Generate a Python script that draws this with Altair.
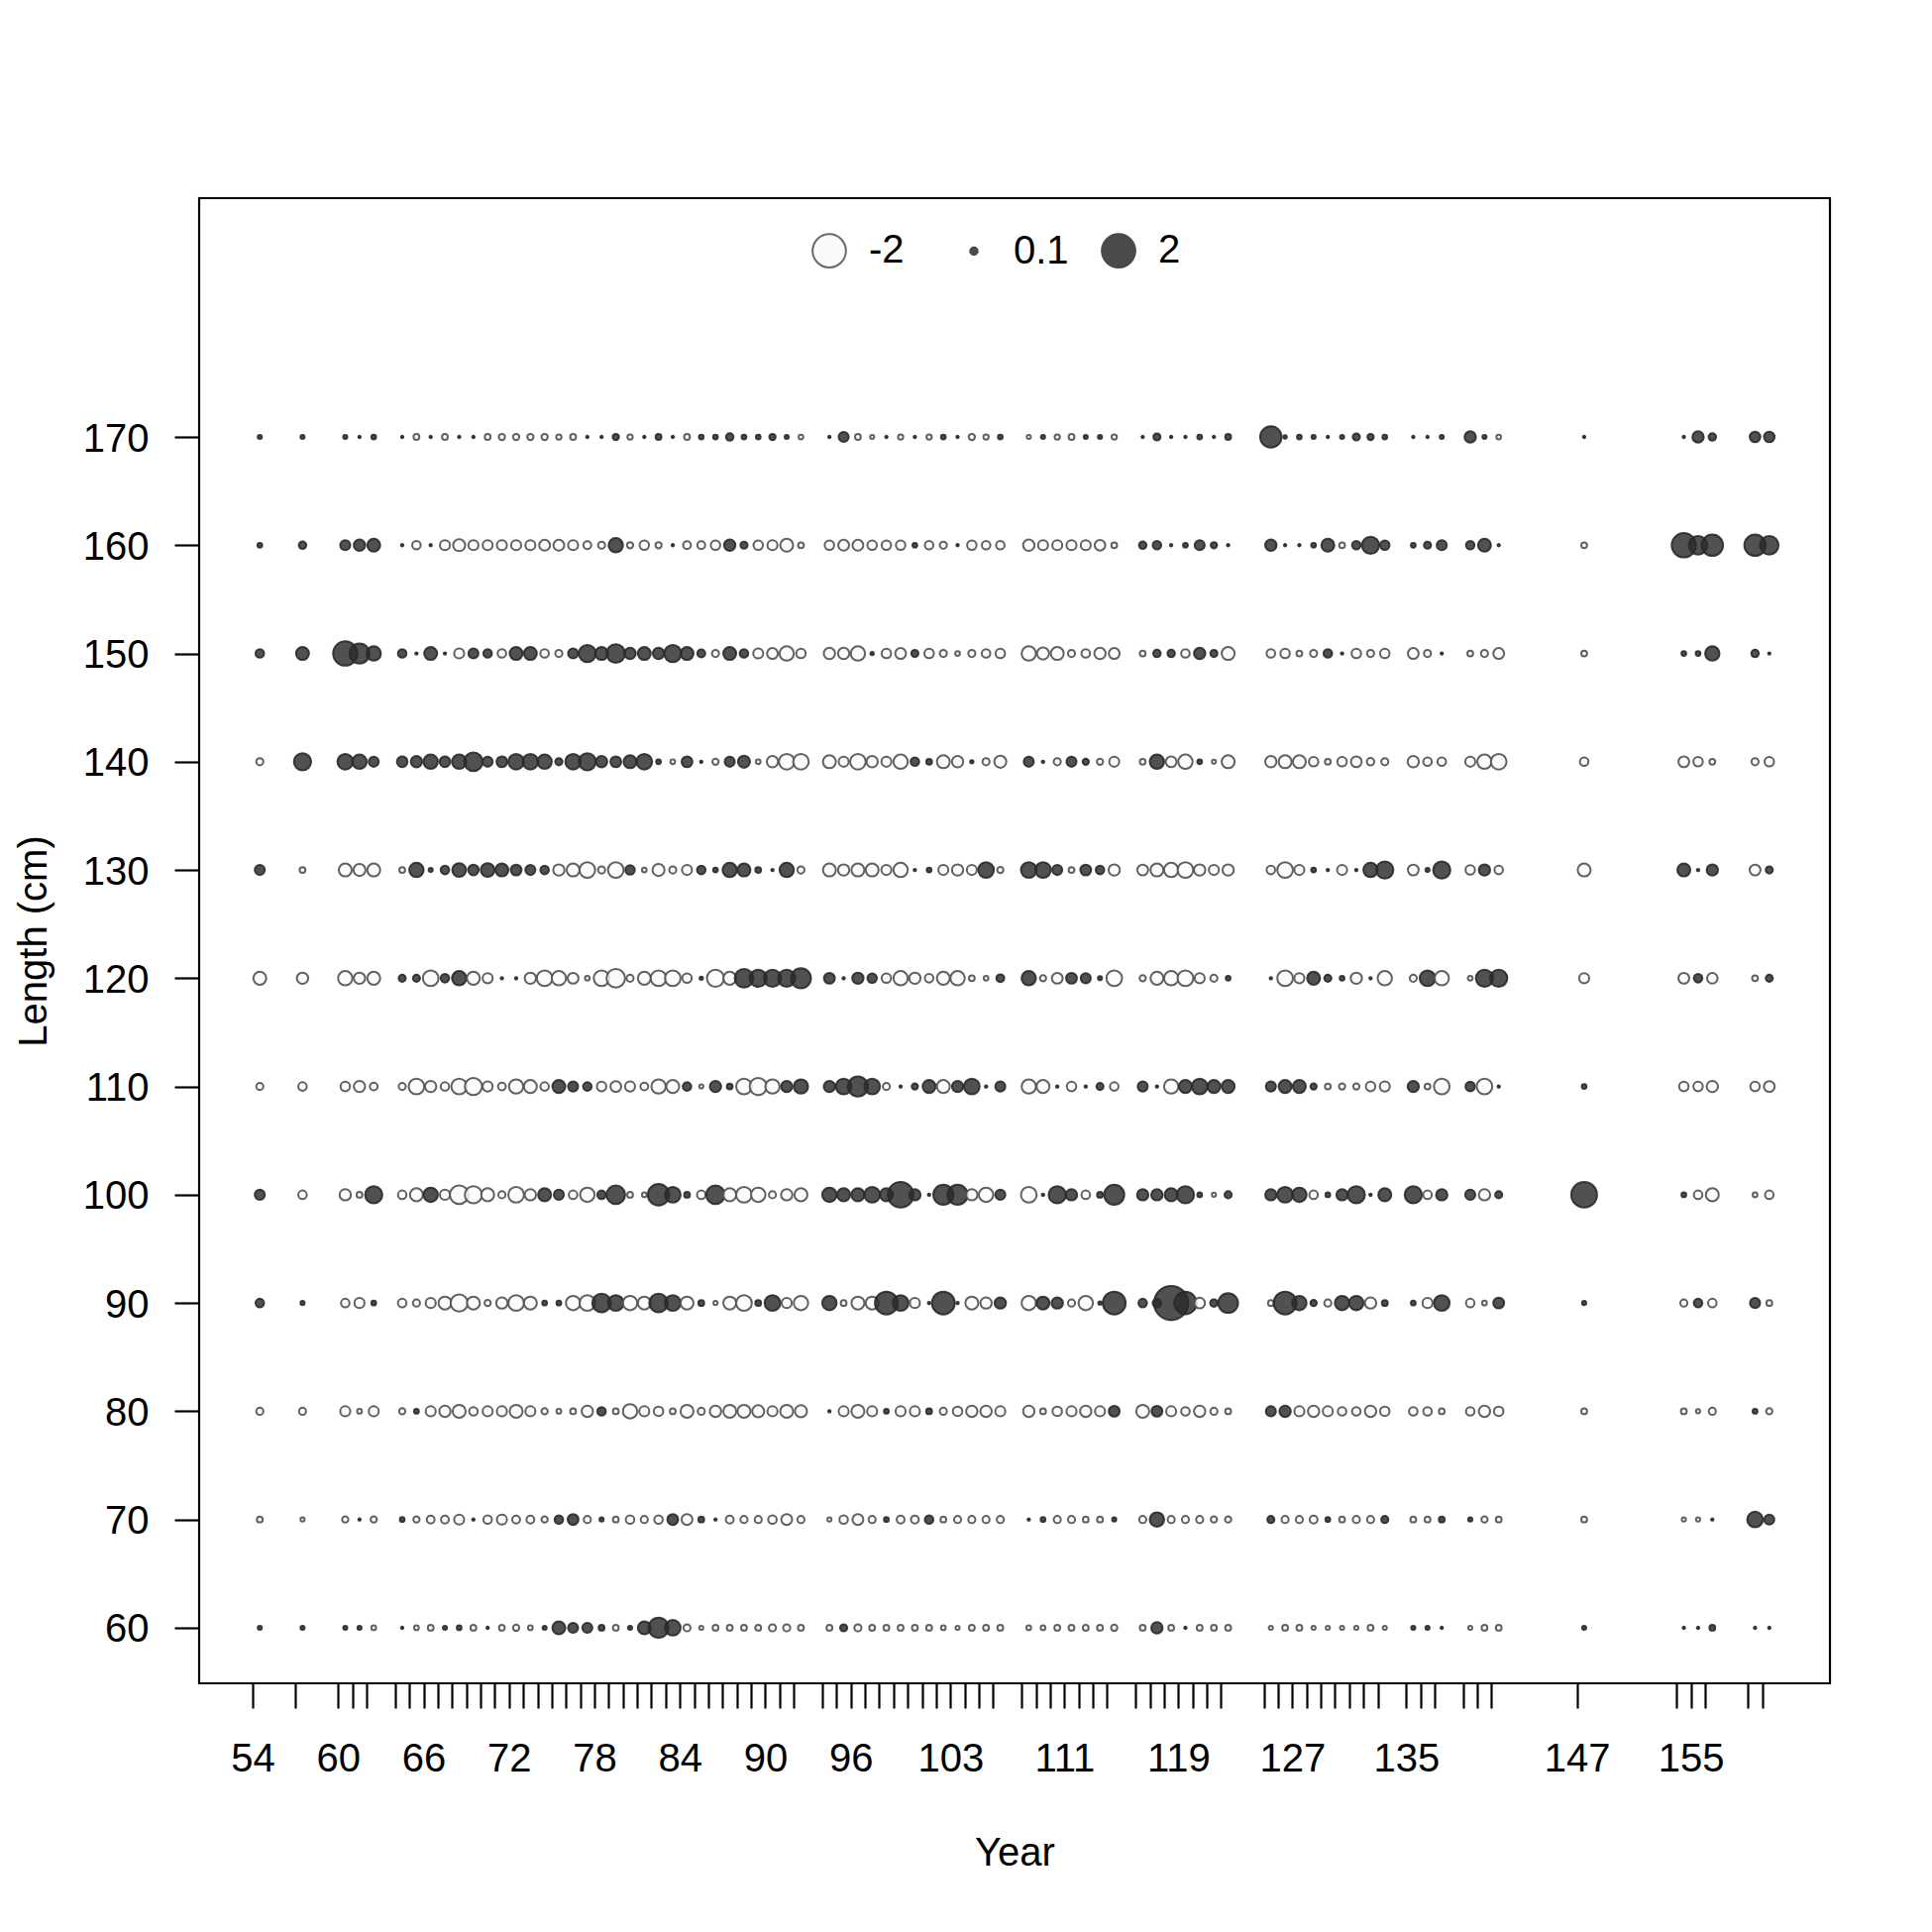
import altair as alt
import pandas as pd
import numpy as np

# ---------------- data ----------------
years = [54, 57, 60, 61, 62,
         64, 65, 66, 67, 68, 69, 70, 71, 72, 73, 74, 75,
         76, 77, 78, 79, 80, 81, 82, 83, 84, 85, 86, 87, 88, 89, 90, 91, 92,
         94, 95, 96, 97, 98, 99, 100, 101, 102, 103, 104, 105, 106,
         108, 109, 110, 111, 112, 113, 114,
         116, 117, 118, 119, 120, 121, 122,
         125, 126, 127, 128, 129, 130, 131, 132, 133,
         135, 136, 137,
         139, 140, 141,
         147,
         154, 155, 156,
         159, 160]

label_years = [54, 60, 66, 72, 78, 84, 90, 96, 103, 111, 119, 127, 135, 147, 155]
lengths = [60, 70, 80, 90, 100, 110, 120, 130, 140, 150, 160, 170]

res_170 = [.03, .03, .03, .01, .04,
           .01, -.06, .01, -.06, .01, .01, -.06, -.07, -.07, -.07, -.07, -.05,
           -.06, .01, .01, .07, -.05, .01, .06, .01, -.06, .04, .04, .1, .04, .04, .07, .03, -.04,
           .01, .18, -.06, -.03, .01, -.05, .01, -.05, .04, .01, -.07, -.05, .04,
           -.03, .03, -.05, -.06, .03, .03, -.05,
           .01, .09, .01, .01, .04, .01, .06,
           .82, .02, .04, .03, .01, .03, .09, .07, .04,
           .01, .01, .03,
           .23, .03, -.04,
           .01,
           .01, .23, .1,
           .2, .2]

res_160 = [.04, .1, .18, .23, .3,
           .01, -.13, .01, -.18, -.26, -.18, -.18, -.18, -.18, -.18, -.21, -.21,
           -.18, -.11, -.09, .37, -.07, -.16, -.07, .01, -.11, -.11, -.16, .23, .09, -.16, -.18, -.3, -.06,
           -.16, -.21, -.21, -.16, -.16, -.16, .04, -.13, -.09, .01, -.16, -.13, -.13,
           -.23, -.18, -.18, -.18, -.18, -.2, -.06,
           .1, .13, .01, .04, .18, .07, .01,
           .23, .01, .01, .04, .3, -.06, .13, .53, .16,
           .04, .09, .18,
           .13, .3, .01,
           -.06,
           1.05, .62, .82,
           .82, .62]

res_150 = [.13, .3, 1.05, .72, .37,
           .13, .01, .3, .01, -.18, .18, .13, -.13, .3, .3, -.13, -.09,
           .18, .53, .3, .62, .23, .3, .23, .53, .3, .11, -.09, .3, .13, -.18, -.21, -.37, -.16,
           -.23, -.23, -.37, .02, -.16, -.21, .09, -.16, -.09, -.04, -.09, -.13, -.16,
           -.37, -.26, -.3, -.09, -.13, -.23, -.21,
           -.06, .1, .1, -.13, .23, .09, -.3,
           -.13, -.16, -.06, -.09, .13, .01, -.16, -.09, -.16,
           -.21, -.09, .01,
           -.06, -.09, -.21,
           -.06,
           .04, .04, .37,
           .1, .01]

res_140 = [-.09, .53, .44, .37, .18,
           .2, .23, .37, .2, .37, .62, .18, .21, .44, .44, .37, .09,
           .44, .53, .23, .21, .3, .44, .04, -.04, .21, .01, -.07, .18, .26, -.04, -.23, -.44, -.44,
           -.3, -.18, -.44, -.23, -.18, -.37, .13, .06, -.3, -.23, .02, -.09, -.26,
           .18, .01, -.09, .18, .07, -.07, -.18,
           -.06, .37, -.21, -.37, .04, -.03, -.3,
           -.23, -.3, -.3, -.16, -.06, -.16, -.21, -.1, -.09,
           -.23, -.13, -.13,
           -.18, -.37, -.44,
           -.13,
           -.21, -.16, -.06,
           -.09, -.16]

res_130 = [.18, -.06, -.3, -.26, -.3,
           -.06, .37, .03, .13, .34, .2, .34, .3, .21, .18, .13, -.23,
           -.3, -.44, -.09, -.44, .16, -.04, -.26, -.09, -.18, .13, .04, .37, .3, .06, .01, .37, -.09,
           -.3, -.23, -.3, -.3, -.18, -.37, .01, .04, -.18, -.23, -.18, .44, -.07,
           .44, .44, .18, -.06, .21, .13, -.23,
           -.21, -.3, -.37, -.44, -.23, -.18, -.23,
           -.13, -.44, -.18, .04, .01, -.18, .01, .37, .53,
           -.21, .03, .53,
           -.16, .23, -.13,
           -.3,
           .3, .01, .23,
           -.21, .09]

res_120 = [-.3, -.23, -.37, -.23, -.3,
           .09, .09, -.44, .13, .37, -.3, -.18, .01, .01, -.23, -.44, -.37,
           -.21, -.04, -.44, -.62, -.09, -.3, -.44, -.44, -.16, .02, -.53, -.3, .62, .53, .53, .53, .72,
           .21, .01, .23, .16, -.16, -.37, -.23, -.13, -.3, -.37, -.06, -.04, .11,
           .37, -.07, -.21, .21, .18, .03, -.44,
           -.07, -.3, -.37, -.44, -.18, -.09, .04,
           .01, -.44, -.18, .3, .09, .04, -.23, .01, -.37,
           -.09, .44, -.37,
           -.04, .53, .53,
           -.18,
           -.21, .13, -.2,
           -.06, .09]

res_110 = [-.09, -.13, -.16, -.23, -.11,
           -.09, -.44, -.23, -.13, -.44, -.53, -.18, -.11, -.37, -.3, -.13, .3,
           .18, .13, -.16, -.21, -.18, -.11, -.37, -.3, .13, -.03, .23, .06, -.44, -.53, -.37, .23, .37,
           .23, .44, .72, .44, -.09, .01, .07, .3, -.3, .23, .44, .01, .18,
           -.37, -.3, .01, -.16, .01, .09, -.13,
           .18, .01, -.37, .3, .44, .3, .3,
           .18, .3, .3, .07, -.06, -.07, -.07, -.16, -.18,
           .23, -.06, -.44,
           .16, -.44, .01,
           .04,
           -.16, -.16, -.23,
           -.16, -.21]

res_100 = [.18, -.13, -.23, -.06, .53,
           -.13, -.3, .37, -.18, -.62, -.53, -.3, -.09, -.44, -.23, .3, .18,
           -.13, -.37, .13, .62, -.06, -.04, .82, .44, .06, -.13, .62, -.3, -.44, -.37, -.09, -.23, -.3,
           .37, .3, .3, .44, .3, 1.18, .23, .01, .72, .72, -.23, -.37, .18,
           -.44, .01, .53, .23, -.13, .06, .72,
           .23, .23, .3, .53, .04, -.03, .09,
           .23, .44, .37, -.13, .04, .23, .53, .01, .3,
           .53, -.13, .23,
           .18, -.23, .09,
           1.18,
           .04, -.13, -.3,
           -.04, -.13]

res_90 = [.13, .03, -.13, -.18, .04,
          -.13, -.09, -.18, -.3, -.53, -.3, -.07, -.23, -.44, -.3, .04, .04,
          -.37, -.44, .62, .44, -.37, -.3, .62, .44, -.3, .06, -.03, -.3, -.44, .06, .44, -.18, -.37,
          .37, -.06, -.3, -.3, .93, .44, -.18, .01, .93, .01, -.3, -.23, .23,
          -.37, .3, .23, -.09, -.37, .02, .93,
          .13, .13, 2.1, .9, -.2, .1, .7,
          -.06, .93, .37, .07, -.09, .37, .37, -.23, .06,
          .04, -.18, .44,
          -.13, -.04, .21,
          .03,
          -.09, .13, -.13,
          .18, -.06]

res_80 = [-.09, -.09, -.18, -.04, -.18,
          -.07, .04, -.18, -.23, -.3, -.13, -.18, -.18, -.3, -.18, -.07, -.04,
          -.06, -.23, .13, -.06, -.37, -.18, -.16, -.06, -.3, -.09, -.23, -.3, -.3, -.26, -.18, -.3, -.26,
          .01, -.18, -.3, -.18, .04, -.18, -.18, .06, -.09, -.16, -.23, -.23, -.18,
          -.23, -.06, -.16, -.18, -.23, -.18, .21,
          -.3, .21, -.18, -.13, -.23, -.09, -.06,
          .18, .23, -.18, -.23, -.18, -.13, -.13, -.23, -.16,
          -.13, -.13, -.06,
          -.13, -.23, -.16,
          -.06,
          -.06, -.03, -.09,
          .04, -.07]

res_70 = [-.06, -.03, -.07, .01, -.07,
          .04, -.07, -.11, -.11, -.18, .01, -.13, -.18, -.11, -.11, -.07, .13,
          .21, -.09, .03, -.06, -.13, -.09, -.13, .21, -.21, .06, .01, -.11, -.09, -.09, -.13, -.21, -.09,
          -.03, -.13, -.21, -.09, .04, -.11, -.11, .13, -.06, -.09, -.09, -.09, -.09,
          .01, .04, -.09, -.09, -.06, -.06, .03,
          -.09, .37, -.09, -.09, -.09, -.07, -.07,
          .09, -.09, -.09, -.11, .04, -.06, -.09, -.09, .09,
          -.06, -.06, .06,
          .03, -.07, -.06,
          -.06,
          -.03, -.03, .01,
          .44, .18]

res_60 = [.03, .03, .03, .03, -.04,
          .01, -.04, -.06, .03, .04, -.06, .01, -.06, -.07, -.04, .03, .3,
          .18, .18, .06, -.06, .03, .3, .72, .44, -.09, -.03, -.06, -.06, -.06, -.06, -.09, -.09, -.06,
          -.06, .09, -.09, -.06, -.06, -.06, -.06, -.06, -.04, -.03, -.06, -.06, -.06,
          -.04, -.04, -.06, -.06, -.06, -.06, -.07,
          -.06, .23, -.06, .01, -.06, -.06, -.06,
          -.03, -.06, -.06, -.03, -.03, -.03, -.03, -.06, -.03,
          .03, .03, .01,
          -.03, -.06, -.06,
          .03,
          .01, .01, .06,
          .01, .01]

legend_labels = ["-2", "0.1", "2"]
legend_values = [-2, 0.1, 2]

# ---------------- table ----------------
series = [res_60, res_70, res_80, res_90, res_100, res_110,
          res_120, res_130, res_140, res_150, res_160, res_170]
rows = []
for L, vals in zip(lengths, series):
    for yr, v in zip(years, vals):
        rows.append({"year": yr, "length": L, "resid": v})
df = pd.DataFrame(rows)
df["absval"] = df["resid"].abs()
df["sign"] = np.where(df["resid"] >= 0, "pos", "neg")

AREA_PER_UNIT = 567.0       # px^2 of bubble area per unit |residual|
FILL_POS = "#2b2b2b"
FILL_NEG = "#fafafa"
STROKE_POS = "#2a2a2a"
STROKE_NEG = "#505050"
FONT = "Liberation Sans"

W, H = 1646, 1499
x_scale = alt.Scale(domain=[50.24, 164.76], nice=False, zero=False)
y_scale = alt.Scale(domain=[54.87, 192.06], nice=False, zero=False)

label_expr = "indexof(" + str(label_years) + ", datum.value) >= 0 ? datum.label : ''"

bubbles = alt.Chart(df).transform_calculate(
    xpos="datum.year + 0.5"
).mark_circle(fillOpacity=0.82, strokeOpacity=0.9, strokeWidth=2).encode(
    x=alt.X("xpos:Q", scale=x_scale,
            axis=alt.Axis(values=years, labelExpr=label_expr, format="d",
                          title="Year", titleX=W / 2, titleY=171,
                          titleAlign="center", titleBaseline="middle",
                          labelPadding=51, labelBaseline="middle",
                          labelOverlap=False, labelFlush=False)),
    y=alt.Y("length:Q", scale=y_scale,
            axis=alt.Axis(values=lengths, format="d", title="Length (cm)",
                          titleAngle=-90, titleX=-167, titleY=H / 2,
                          titleAlign="center", titleBaseline="middle",
                          labelPadding=26, labelAlign="right",
                          labelBaseline="middle", labelOffset=2,
                          labelOverlap=False, labelFlush=False)),
    size=alt.Size("absval:Q",
                  scale=alt.Scale(type="linear", domain=[0, 2],
                                  range=[0, 2 * AREA_PER_UNIT], zero=True),
                  legend=None),
    fill=alt.Fill("sign:N", scale=alt.Scale(domain=["neg", "pos"],
                                            range=[FILL_NEG, FILL_POS]),
                  legend=None),
    stroke=alt.Stroke("sign:N", scale=alt.Scale(domain=["neg", "pos"],
                                                range=[STROKE_NEG, STROKE_POS]),
                      legend=None),
)

leg_legend = alt.Legend(orient="none", legendX=616, legendY=33,
                        direction="horizontal", gridAlign="all",
                        columnPadding=29, labelOffset=20,
                        labelFontSize=40, labelFont=FONT,
                        labelColor="black", symbolType="circle",
                        symbolStrokeWidth=2, symbolOpacity=0.85,
                        padding=0, rowPadding=0)

leg_df = pd.DataFrame({"lab": legend_labels, "val": legend_values})
legend_layer = alt.Chart(leg_df).mark_point(
    filled=True, opacity=0, strokeWidth=2
).encode(
    size=alt.Size("lab:O",
                  scale=alt.Scale(type="ordinal", domain=legend_labels,
                                  range=[abs(v) * AREA_PER_UNIT for v in legend_values]),
                  legend=leg_legend, title=None),
    fill=alt.Fill("lab:O",
                  scale=alt.Scale(domain=legend_labels,
                                  range=[FILL_NEG, FILL_POS, FILL_POS]),
                  legend=leg_legend, title=None),
    stroke=alt.Stroke("lab:O",
                      scale=alt.Scale(domain=legend_labels,
                                      range=[STROKE_NEG, STROKE_POS, STROKE_POS]),
                      legend=leg_legend, title=None),
)

chart = alt.layer(bubbles, legend_layer).resolve_scale(
    size="independent", fill="independent", stroke="independent"
).properties(
    width=W, height=H,
    background="white",
    autosize=alt.AutoSizeParams(type="none"),
    padding={"left": 193, "top": 192, "right": 95, "bottom": 243},
).configure_view(
    stroke="black", strokeWidth=2.2
).configure_axis(
    grid=False, domain=False, tickColor="black", tickWidth=2.2, tickSize=25,
    labelColor="black", labelFont=FONT, labelFontSize=40,
    titleColor="black", titleFont=FONT, titleFontSize=40,
    titleFontWeight="normal",
)

chart.save("out.html", embed_options={"renderer": "svg", "actions": False})
